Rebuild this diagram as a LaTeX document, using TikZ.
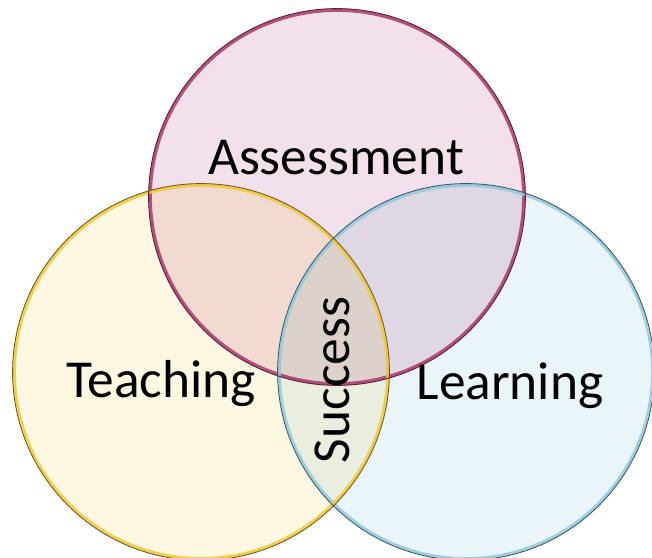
\documentclass[tikz,border=0pt]{standalone}
\usepackage{fontspec}
\setmainfont{Carlito}
\usepackage{tikz}
\usetikzlibrary{positioning}

\definecolor{assessfill}{HTML}{F2E1EA}
\definecolor{assessrim}{HTML}{A8386A}
\definecolor{assessdark}{HTML}{5A1E3A}
\definecolor{teachfill}{HTML}{FEF8E3}
\definecolor{teachrim}{HTML}{F2C835}
\definecolor{teachdark}{HTML}{6A5A28}
\definecolor{learnfill}{HTML}{EAF5FA}
\definecolor{learnrim}{HTML}{92C8DC}
\definecolor{learndark}{HTML}{3A5A66}

\begin{document}
\begin{tikzpicture}
  \tikzstyle{ring}=[circle, minimum size=9.4cm, inner sep=0pt, outer sep=0pt]
  \tikzstyle{rim}=[line width=2.4pt, draw opacity=0.85]
  \tikzstyle{edge}=[line width=0.6pt]
  \tikzstyle{word}=[font=\fontsize{38}{46}\selectfont, inner sep=0pt]
  \useasboundingbox[fill=white] (0,0) rectangle (16.3,13.95);

  \begin{scope}[blend mode=multiply]
    \node[ring, fill=assessfill] (assess) at (8.425,9.025) {};
    \node[ring, fill=learnfill] (learn) at (11.65,4.65) {};
    \node[ring, fill=teachfill] (teach) at (5.025,4.65) {};
  \end{scope}

  % rims
  \draw[rim, assessrim] (assess.center) circle (4.67);
  \draw[rim, learnrim] (learn.center) circle (4.67);
  \draw[rim, teachrim] (teach.center) circle (4.67);
  \draw[edge, assessdark] (assess.center) circle (4.71);
  \draw[edge, learndark] (learn.center) circle (4.71);
  \draw[edge, teachdark] (teach.center) circle (4.71);

  \node[word, anchor=base] (assesstext) at (8.4,9.575) {Assessment};
  \node[word, anchor=base] (teachtext) at (4.025,4.0) {Teaching};
  \node[word, anchor=base] (learntext) at (12.75,3.95) {Learning};
  \node[word, rotate=90] (successtext) at (8.3,4.45) {Success};
\end{tikzpicture}
\end{document}
